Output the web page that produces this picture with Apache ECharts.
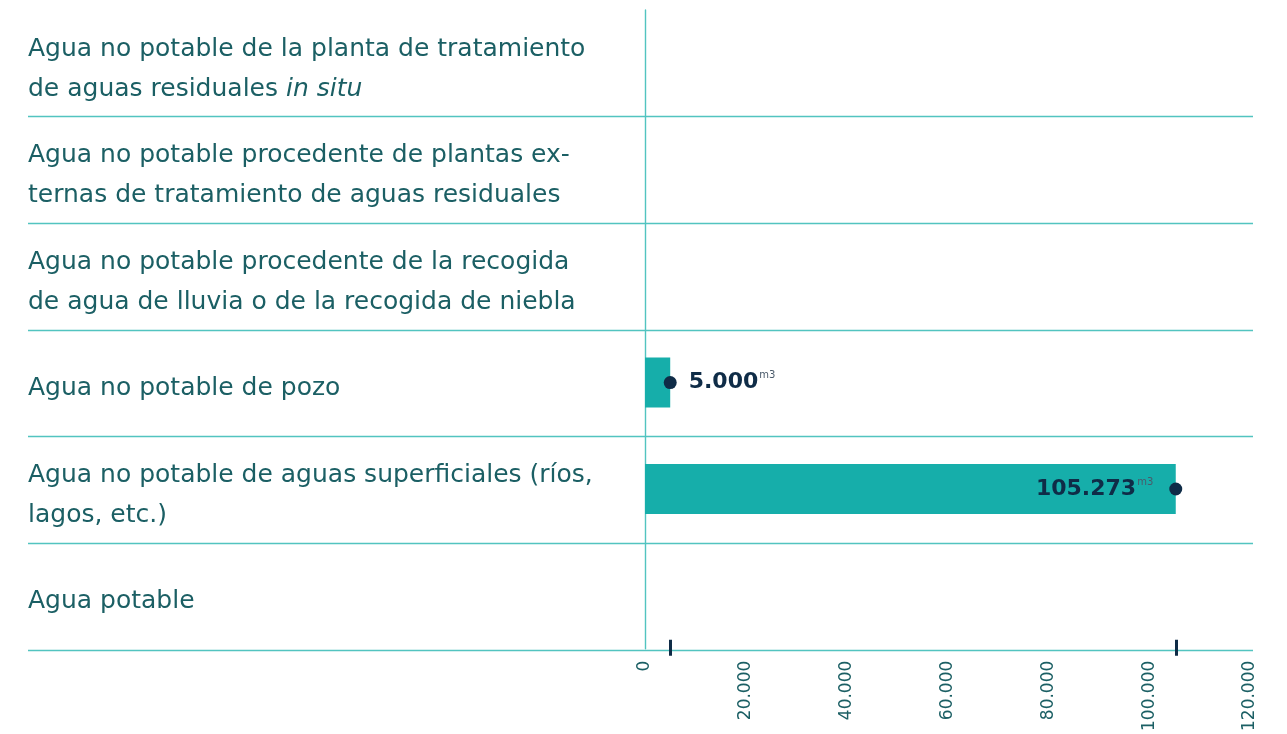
<!DOCTYPE html>
<html>
<head>
<meta charset="utf-8">
<script src="https://cdn.jsdelivr.net/npm/echarts@6/dist/echarts.min.js"></script>
<style>
  html, body { margin: 0; padding: 0; background: #fff; }
  #chart { width: 1287px; height: 734px; }
</style>
</head>
<body>
<div id="chart"></div>
<script>
// categorias, de arriba a abajo
var categorias = [
  'Agua no potable de la planta de tratamiento\nde aguas residuales in situ',
  'Agua no potable procedente de plantas ex-\nternas de tratamiento de aguas residuales',
  'Agua no potable procedente de la recogida\nde agua de lluvia o de la recogida de niebla',
  'Agua no potable de pozo',
  'Agua no potable de aguas superficiales (ríos,\nlagos, etc.)',
  'Agua potable'
];
// m3
var valores = [null, null, null, 5000, 105273, null];
var ejeMin = 0;
var ejeMax = 120000;
var ejeIntervalo = 20000;

var texto = '#1b5f64';
var lineas = '#52c4c0';
var barra = '#16aeaa';
var oscuro = '#0f2c47';
var fuente = '"DejaVu Sans", sans-serif';

function miles(v) {
  return String(v).replace(/\B(?=(\d{3})+(?!\d))/g, '.');
}

var chart = echarts.init(document.getElementById('chart'));

var puntos = valores.map(function (v) {
  if (v == null) return null;
  var grande = v > ejeMax * 0.6;
  return {
    value: v,
    label: { position: grande ? 'left' : 'right', distance: grande ? 16 : 12 }
  };
});

var marcas = valores.filter(function (v) { return v != null; });

var option = {
  backgroundColor: '#fff',
  animation: false,
  grid: [
    // solo para las lineas separadoras que van de borde a borde
    { left: 28, right: 34, top: 116.67, bottom: 84 },
    { left: 645, right: 37, top: 10, bottom: 84 }
  ],
  xAxis: [
    { gridIndex: 0, type: 'value', show: false },
    {
      gridIndex: 1, type: 'value', min: ejeMin, max: ejeMax, interval: ejeIntervalo,
      axisLine: { show: false },
      splitLine: { show: false },
      axisTick: { show: true, customValues: marcas, length: 7, lineStyle: { color: oscuro, width: 3 } },
      axisLabel: {
        rotate: 90, margin: 12, color: texto, fontSize: 17, fontFamily: fuente,
        formatter: function (v) { return miles(v); }
      }
    },
    {
      gridIndex: 1, type: 'value', min: ejeMin, max: ejeMax, position: 'bottom',
      axisLine: { show: false },
      splitLine: { show: false },
      axisLabel: { show: false },
      axisTick: { show: true, inside: true, customValues: marcas, length: 9, lineStyle: { color: oscuro, width: 3 } }
    }
  ],
  yAxis: [
    {
      gridIndex: 0, type: 'value', min: 0, max: 5, interval: 1,
      axisLine: { show: false }, axisTick: { show: false }, axisLabel: { show: false },
      splitLine: { show: true, lineStyle: { color: lineas, width: 1.4 } }
    },
    {
      gridIndex: 1, type: 'category', inverse: true, data: categorias,
      axisLine: { show: true, lineStyle: { color: lineas, width: 1.4 } },
      axisTick: { show: false },
      splitLine: { show: false },
      axisLabel: {
        align: 'left', margin: 617, color: texto, fontSize: 25, lineHeight: 40,
        fontFamily: fuente, padding: [12, 0, 0, 0],
        formatter: function (v) { return v.replace('in situ', '{i|in situ}'); },
        rich: {
          i: { fontStyle: 'italic', fontSize: 25, lineHeight: 40, color: texto, fontFamily: fuente }
        }
      }
    }
  ],
  series: [
    {
      type: 'bar', xAxisIndex: 1, yAxisIndex: 1, data: valores,
      barWidth: 50, itemStyle: { color: barra }
    },
    {
      type: 'scatter', xAxisIndex: 1, yAxisIndex: 1, data: puntos,
      symbol: 'circle', symbolSize: 13, itemStyle: { color: oscuro, opacity: 1 },
      label: {
        show: true,
        formatter: function (p) { return '{v|' + miles(p.value) + '}{u|m3}'; },
        rich: {
          v: { fontSize: 22, fontWeight: 'bold', color: oscuro, fontFamily: fuente, lineHeight: 24 },
          u: { fontSize: 10, color: '#4a5a6a', fontFamily: fuente, verticalAlign: 'top', padding: [0, 0, 0, 1] }
        }
      }
    }
  ]
};

chart.setOption(option);
</script>
</body>
</html>
